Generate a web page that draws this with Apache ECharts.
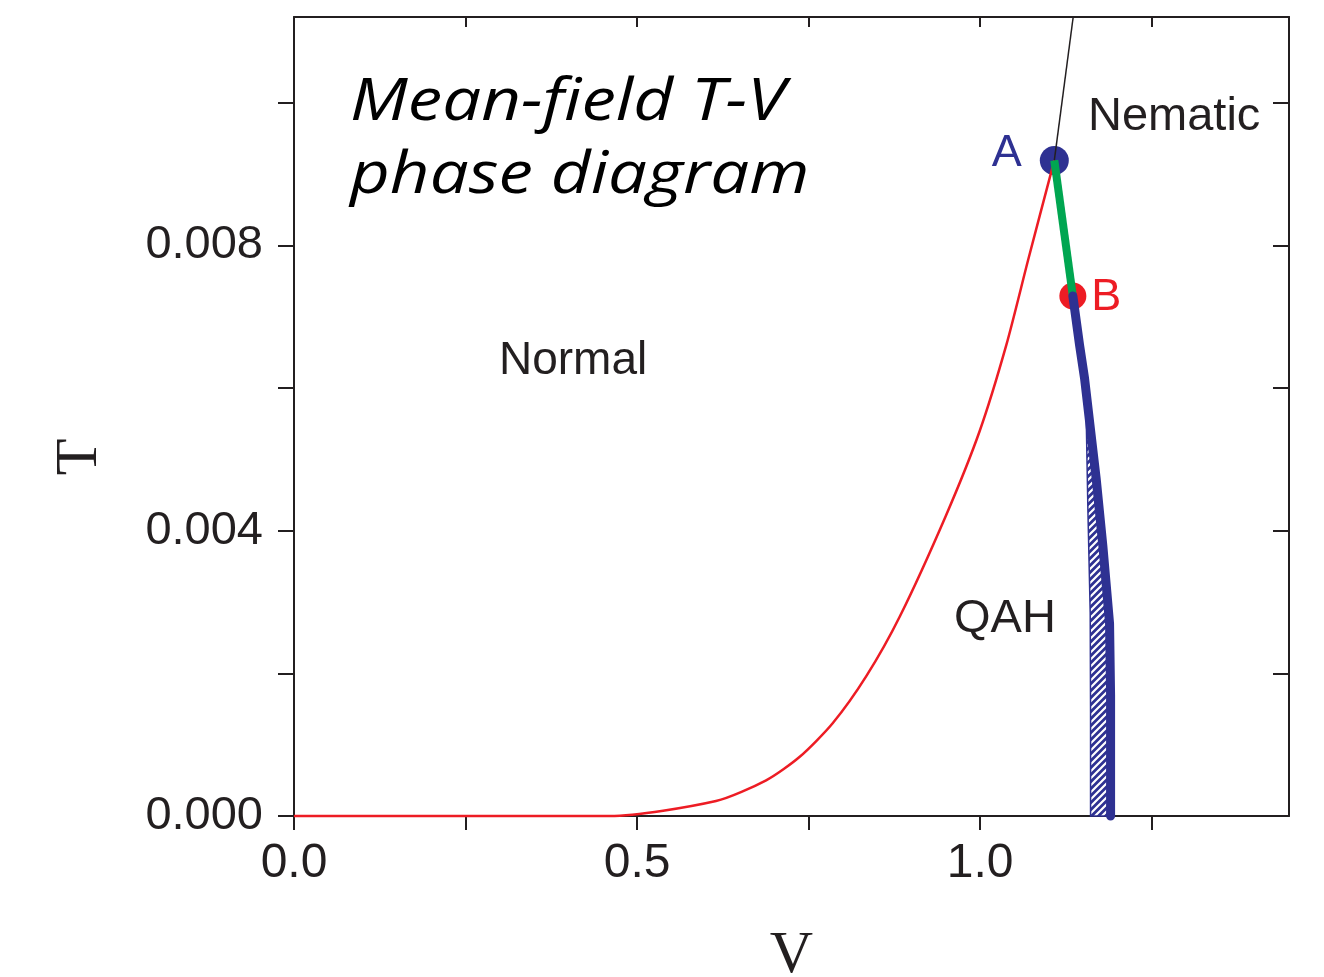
<!DOCTYPE html>
<html>
<head>
<meta charset="utf-8">
<title>Mean-field T-V phase diagram</title>
<script src="https://cdn.jsdelivr.net/npm/echarts@6/dist/echarts.min.js"></script>
<style>
  html, body { margin: 0; padding: 0; background: #fff; }
  #main { width: 1324px; height: 977px; }
</style>
</head>
<body>
<div id="main"></div>
<script>
// axis ticks / labels
var xTicks = [0, 0.25, 0.5, 0.75, 1.0, 1.25];
var xLabels = [0, 0.5, 1.0];
var yTicks = [0, 0.002, 0.004, 0.006, 0.008, 0.010];
var yLabels = [0, 0.004, 0.008];

// Normal -> QAH boundary (red), [V, T]
var redLine = [
    [0, 0], [0.46, 0], [0.615, 0.00021], [0.688, 0.0005], [0.737, 0.00083],
    [0.785, 0.0013], [0.834, 0.00196], [0.883, 0.0028], [0.95, 0.00421],
    [0.999, 0.00539], [1.038, 0.0066], [1.070, 0.0078], [1.108, 0.00919]
];
// Normal -> Nematic (black)
var blackLine = [[1.108, 0.00919], [1.1355, 0.0112]];
// A -> B (green)
var greenLine = [[1.108, 0.00919], [1.135, 0.00729]];
// QAH -> Nematic first order line (blue)
var blueLine = [
    [1.135, 0.00729], [1.1448, 0.0066], [1.152, 0.00614], [1.169, 0.00473],
    [1.1787, 0.00379], [1.1885, 0.0027], [1.190, 0.0017], [1.190, 0]
];
// left edge of hatched coexistence region
var hatchLeft = [[1.1535, 0.0061], [1.157, 0.00426], [1.1603, 0.00285], [1.1608, 0.00145], [1.1608, 0]];
// special points
var pointA = [1.108, 0.00919];
var pointB = [1.135, 0.00729];

var INK = '#231f20';
var RED = '#ed1c24';
var BLUE = '#2e3192';
var GREEN = '#00a651';

function makeHatch() {
    var c = document.createElement('canvas');
    c.width = 7; c.height = 7;
    var g = c.getContext('2d');
    g.fillStyle = BLUE;
    g.fillRect(0, 0, 7, 7);
    g.strokeStyle = '#ffffff';
    g.lineWidth = 2.2;
    g.beginPath();
    g.moveTo(-1, 8); g.lineTo(8, -1);
    g.moveTo(-8, 8); g.lineTo(1, -1);
    g.moveTo(6, 8); g.lineTo(15, -1);
    g.stroke();
    return c;
}
var hatchImg = makeHatch();

// hatched polygon: left edge downwards, blue line back upwards
var hatchPoly = hatchLeft.concat(blueLine.slice(2).reverse());

var chart = echarts.init(document.getElementById('main'));

var option = {
    backgroundColor: '#fff',
    animation: false,
    grid: { left: 294, top: 17, right: 35, bottom: 161, containLabel: false, outerBoundsMode: 'none' },
    xAxis: [{
        type: 'value', position: 'bottom', min: 0, max: 1.45,
        axisLine: { show: true, onZero: false, lineStyle: { color: INK, width: 2 } },
        axisTick: { show: true, inside: false, length: 14, customValues: xTicks, lineStyle: { color: INK, width: 2 } },
        axisLabel: {
            customValues: xLabels, margin: 24, color: INK,
            fontFamily: 'Liberation Sans', fontSize: 48,
            formatter: function (v) { return v.toFixed(1); }
        },
        splitLine: { show: false },
        name: 'V', nameLocation: 'middle', nameGap: 110,
        nameTextStyle: { fontFamily: 'Liberation Serif', fontSize: 60, color: INK }
    }, {
        type: 'value', position: 'top', min: 0, max: 1.45,
        axisLine: { show: true, onZero: false, lineStyle: { color: INK, width: 2 } },
        axisTick: { show: true, inside: true, length: 10, customValues: xTicks, lineStyle: { color: INK, width: 2 } },
        axisLabel: { show: false },
        splitLine: { show: false }
    }],
    yAxis: [{
        type: 'value', position: 'left', min: 0, max: 0.0112,
        axisLine: { show: true, onZero: false, lineStyle: { color: INK, width: 2 } },
        axisTick: { show: true, inside: false, length: 16, customValues: yTicks, lineStyle: { color: INK, width: 2 } },
        axisLabel: {
            customValues: yLabels, margin: 31, color: INK,
            fontFamily: 'Liberation Sans', fontSize: 47,
            formatter: function (v) { return v.toFixed(3); }
        },
        splitLine: { show: false }
    }, {
        type: 'value', position: 'right', min: 0, max: 0.0112,
        axisLine: { show: true, onZero: false, lineStyle: { color: INK, width: 2 } },
        axisTick: { show: true, inside: true, length: 16, customValues: yTicks, lineStyle: { color: INK, width: 2 } },
        axisLabel: { show: false },
        splitLine: { show: false }
    }],
    graphic: [
        {
            type: 'text', x: 80, y: 457, rotation: Math.PI / 2,
            style: { text: 'T', font: '60px "Liberation Serif"', fill: INK, align: 'center', verticalAlign: 'middle' }
        },
        {
            type: 'text', x: 350, y: 103, scaleX: 1.17,
            style: { text: 'Mean-field T-V', font: 'italic 59px "Open Sans"', fill: '#000', align: 'left', verticalAlign: 'middle' }
        },
        {
            type: 'text', x: 350, y: 176, scaleX: 1.17,
            style: { text: 'phase diagram', font: 'italic 59px "Open Sans"', fill: '#000', align: 'left', verticalAlign: 'middle' }
        },
        {
            type: 'text', x: 499, y: 361,
            style: { text: 'Normal', font: '46px "Liberation Sans"', fill: INK, align: 'left', verticalAlign: 'middle' }
        },
        {
            type: 'text', x: 954, y: 619,
            style: { text: 'QAH', font: '47px "Liberation Sans"', fill: INK, align: 'left', verticalAlign: 'middle' }
        },
        {
            type: 'text', x: 1088, y: 117,
            style: { text: 'Nematic', font: '47px "Liberation Sans"', fill: INK, align: 'left', verticalAlign: 'middle' }
        }
    ],
    series: [
        {
            type: 'custom', name: 'coexistence', xAxisIndex: 0, yAxisIndex: 0,
            clip: false, z: 1,
            data: [0],
            renderItem: function (params, api) {
                var pts = hatchPoly.map(function (p) { return api.coord(p); });
                return {
                    type: 'polygon',
                    shape: { points: pts },
                    style: { fill: { image: hatchImg, repeat: 'repeat' }, stroke: BLUE, lineWidth: 1.5 }
                };
            }
        },
        {
            type: 'line', name: 'Normal-QAH', data: redLine, showSymbol: false, clip: false,
            smooth: 0.25,
            lineStyle: { color: RED, width: 2.5 }
        },
        {
            type: 'line', name: 'Normal-Nematic', data: blackLine, showSymbol: false, clip: false,
            lineStyle: { color: INK, width: 1.5 }
        },
        {
            type: 'line', name: 'A-B', data: greenLine, showSymbol: false, clip: false,
            lineStyle: { color: GREEN, width: 8 }
        },
        {
            type: 'scatter', name: 'A', data: [pointA], symbolSize: 29,
            itemStyle: { color: BLUE, opacity: 1 },
            label: {
                show: true, position: 'left', distance: 18, offset: [0, -7],
                formatter: 'A', color: BLUE, fontFamily: 'Liberation Sans', fontSize: 45
            }
        },
        {
            type: 'scatter', name: 'B', data: [pointB], symbolSize: 27,
            itemStyle: { color: RED, opacity: 1 },
            label: {
                show: true, position: 'right', distance: 5, offset: [0, 2],
                formatter: 'B', color: RED, fontFamily: 'Liberation Sans', fontSize: 45
            }
        },
        {
            type: 'line', name: 'QAH-Nematic', data: blueLine, showSymbol: false, clip: false,
            lineStyle: { color: BLUE, width: 9, cap: 'round', join: 'round' }
        }
    ]
};

chart.setOption(option);
</script>
</body>
</html>
